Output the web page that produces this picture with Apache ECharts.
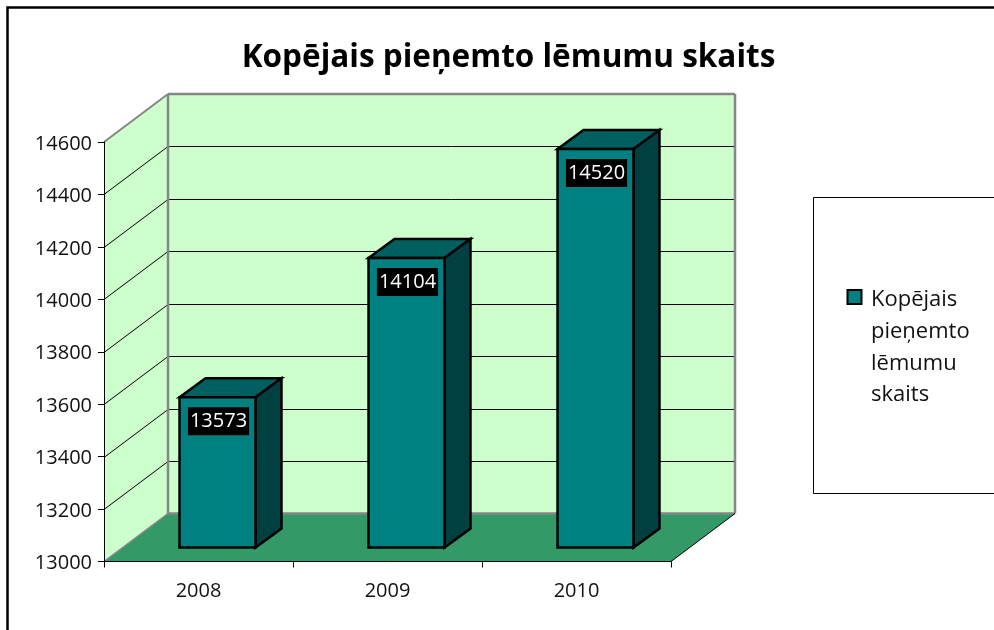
<!DOCTYPE html>
<html>
<head>
<meta charset="utf-8">
<style>html,body{margin:0;padding:0;background:#fff;overflow:hidden}#c{width:994px;height:630px}</style>
<script src="https://cdn.jsdelivr.net/npm/echarts@6/dist/echarts.min.js"></script>
</head>
<body>
<div id="c"></div>
<script>
const titleText = 'Kopējais pieņemto lēmumu skaits';
const seriesName = 'Kopējais pieņemto lēmumu skaits';
const categories = ['2008', '2009', '2010'];
const values = [13573, 14104, 14520];
const yTicks = [13000, 13200, 13400, 13600, 13800, 14000, 14200, 14400, 14600];
const legendLines = ['Kopējais', 'pieņemto', 'lēmumu', 'skaits'];

const FONT = '"Open Sans", "Noto Sans", sans-serif';
const DX = 64, DY = 48;            // chart depth
const BDX = 26, BDY = 19;          // bar depth
const FRONT_DX = 19, FRONT_DY = 14; // bar front offset from the axis plane
const BAR_FRACTION = 0.402;
const GREY = '#868686';

function poly(points, fill, stroke, lineWidth) {
  return { type: 'polygon', shape: { points }, style: { fill: fill || 'none', stroke: stroke || 'none', lineWidth: lineWidth || 0 } };
}
function seg(x1, y1, x2, y2, stroke, lineWidth) {
  return { type: 'line', shape: { x1, y1, x2, y2 }, style: { stroke, lineWidth: lineWidth || 1, fill: 'none' } };
}

function renderWalls(params, api) {
  const r = params.coordSys;
  const L = r.x, R = r.x + r.width, T = r.y, B = r.y + r.height;
  const children = [
    poly([[L, T], [L + DX, T - DY], [L + DX, B - DY], [L, B]], '#CCFFCC'),
    poly([[L + DX, T - DY], [R + DX, T - DY], [R + DX, B - DY], [L + DX, B - DY]], '#CCFFCC'),
    poly([[L, B], [L + DX, B - DY], [R + DX, B - DY], [R, B]], '#339966')
  ];
  yTicks.forEach(function (t) {
    if (t === yTicks[0] || t === yTicks[yTicks.length - 1]) return;
    const y = Math.round(api.coord([0, t])[1]) + 0.5;
    children.push(seg(L, y, L + DX, y - DY, '#000', 1));
    children.push(seg(L + DX, y - DY, R + DX, y - DY, '#000', 1));
  });
  children.push(seg(L, T, L + DX, T - DY, GREY, 2));
  children.push(seg(L + DX, T - DY, R + DX, T - DY, GREY, 2.5));
  children.push(seg(L + DX, T - DY, L + DX, B - DY, GREY, 2.5));
  children.push(seg(R + DX, T - DY, R + DX, B - DY, GREY, 2.5));
  children.push(seg(L + DX, B - DY, R + DX, B - DY, GREY, 2.5));
  children.push(seg(L, B, L + DX, B - DY, GREY, 1.5));
  children.push(seg(R, B, R + DX, B - DY, '#000', 1));
  return { type: 'group', children };
}

function renderBar(params, api) {
  const cat = api.value(0), val = api.value(1);
  const top = api.coord([cat, val]);
  const base = api.coord([cat, yTicks[0]]);
  const w = api.size([1, 0])[0] * BAR_FRACTION;
  const x0 = top[0] + FRONT_DX - w / 2, x1 = x0 + w;
  const yT = top[1] - FRONT_DY, yB = base[1] - FRONT_DY;
  const s = { stroke: '#000', lw: 2.5 };
  return {
    type: 'group',
    children: [
      poly([[x0, yT], [x0 + BDX, yT - BDY], [x1 + BDX, yT - BDY], [x1, yT]], '#006060', s.stroke, s.lw),
      poly([[x1, yT], [x1 + BDX, yT - BDY], [x1 + BDX, yB - BDY], [x1, yB]], '#004040', s.stroke, s.lw),
      poly([[x0, yT], [x1, yT], [x1, yB], [x0, yB]], '#008080', s.stroke, s.lw),
      {
        type: 'text',
        x: (x0 + x1) / 2 + 1,
        y: yT + 24,
        style: {
          text: String(val), font: '20px ' + FONT, fill: '#fff',
          align: 'center', verticalAlign: 'middle',
          backgroundColor: '#000', padding: [4, 2, 4, 2]
        }
      }
    ]
  };
}

const legendX = 871, legendY = 300, legendStep = 31.7;
const chart = echarts.init(document.getElementById('c'), null, { renderer: 'canvas', width: 994, height: 630 });
chart.setOption({
  animation: false,
  backgroundColor: '#fff',
  title: {
    text: titleText, left: 503.5, top: 37, textAlign: 'center',
    textStyle: { fontFamily: FONT, fontWeight: 'bold', fontSize: 31.5, color: '#000' }
  },
  grid: { left: 104, top: 142, width: 567, height: 419.5 },
  xAxis: {
    type: 'category', data: categories, z: 10,
    axisLine: { show: true, lineStyle: { color: '#000', width: 1 } },
    axisTick: { show: true, alignWithLabel: false, length: 6, lineStyle: { color: '#000' } },
    axisLabel: { fontFamily: FONT, fontSize: 20, color: '#111', margin: 20 }
  },
  yAxis: {
    type: 'value', min: 13000, max: 14600, interval: 200, z: 10,
    axisLine: { show: true, lineStyle: { color: '#000', width: 1 } },
    axisTick: { show: true, length: 6, lineStyle: { color: '#000' } },
    splitLine: { show: false },
    axisLabel: { fontFamily: FONT, fontSize: 20, color: '#111', margin: 12, verticalAlign: 'top', lineHeight: 4,
      formatter: function (v) { return String(v); } }
  },
  series: [
    { type: 'custom', z: 1, silent: true, coordinateSystem: 'cartesian2d', data: [[0, yTicks[0]]], renderItem: renderWalls },
    { type: 'custom', z: 3, name: seriesName, coordinateSystem: 'cartesian2d',
      data: values.map(function (v, i) { return [i, v]; }), encode: { x: 0, y: 1 }, renderItem: renderBar }
  ],
  graphic: [
    { type: 'polyline', silent: true, shape: { points: [[7.5, 640], [7.5, 7.5], [1000, 7.5]] }, style: { stroke: '#000', lineWidth: 2.5, fill: 'none' } },
    { type: 'rect', silent: true, shape: { x: 813.5, y: 197.5, width: 300, height: 296 }, style: { fill: '#fff', stroke: '#000', lineWidth: 1 } },
    { type: 'rect', silent: true, shape: { x: 847.5, y: 290, width: 14, height: 14 }, style: { fill: '#008080', stroke: '#000', lineWidth: 2 } }
  ].concat(legendLines.map(function (t, i) {
    return { type: 'text', silent: true, x: legendX, y: legendY + i * legendStep,
      style: { text: t, font: '22px ' + FONT, fill: '#111', verticalAlign: 'middle', align: 'left' } };
  }))
});
</script>
</body>
</html>
